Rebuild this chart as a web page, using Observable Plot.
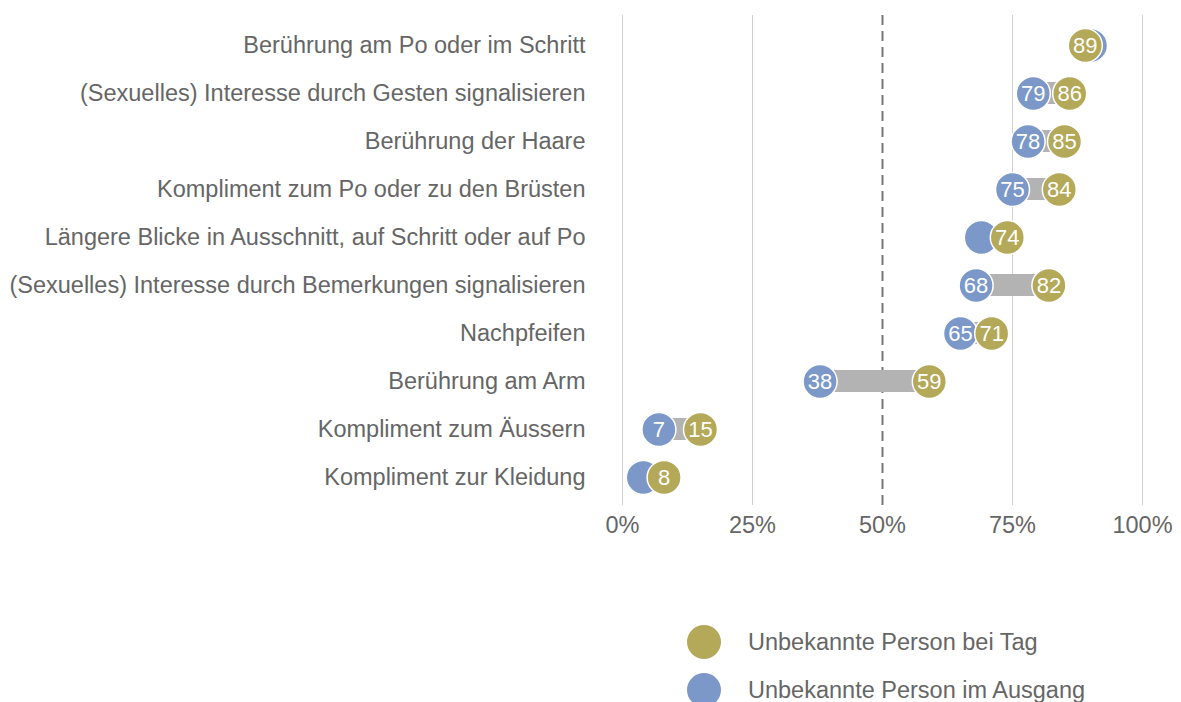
<!DOCTYPE html>
<html>
<head>
<meta charset="utf-8">
<script src="https://cdn.jsdelivr.net/npm/d3@7"></script>
<script src="https://cdn.jsdelivr.net/npm/@observablehq/plot@0.6"></script>
<style>
  body { margin: 0; background: #fff; font-family: "Liberation Sans", Arial, sans-serif; }
  #legend { margin-top: 58px; }
  .item { display: flex; align-items: center; height: 48px; }
  .sw { width: 34px; height: 34px; border-radius: 50%; margin-left: 687px; }
  .lab { margin-left: 27px; font-size: 23.5px; color: #666; }
</style>
</head>
<body>
<div id="chart"></div>
<div id="legend"></div>
<script>
const categories = [
  "Berührung am Po oder im Schritt",
  "(Sexuelles) Interesse durch Gesten signalisieren",
  "Berührung der Haare",
  "Kompliment zum Po oder zu den Brüsten",
  "Längere Blicke in Ausschnitt, auf Schritt oder auf Po",
  "(Sexuelles) Interesse durch Bemerkungen signalisieren",
  "Nachpfeifen",
  "Berührung am Arm",
  "Kompliment zum Äussern",
  "Kompliment zur Kleidung"
];
const tag =     [89, 86, 85, 84, 74, 82, 71, 59, 15, 8];
const ausgang = [90, 79, 78, 75, 69, 68, 65, 38, 7, 4];
const seriesNames = ["Unbekannte Person bei Tag", "Unbekannte Person im Ausgang"];
const seriesColors = ["#b3a958", "#7b98c9"];
const xTicks = [0, 25, 50, 75, 100];

const rows = categories.map((c, i) => ({cat: c, tag: tag[i], aus: ausgang[i]}));
const showAus = rows.filter(d => d.tag - d.aus >= 6);

const plot = Plot.plot({
  width: 1181,
  height: 560,
  marginLeft: 622,
  marginRight: 39,
  marginTop: 21,
  marginBottom: 59,
  style: {fontSize: "23.5px", fontFamily: "Liberation Sans, Arial, sans-serif", color: "#666", background: "#fff"},
  x: {domain: [0, 100]},
  y: {domain: categories, padding: 0},
  marks: [
    Plot.ruleX(xTicks.filter(t => t !== 50), {stroke: "#d0d0d0", strokeWidth: 1, insetTop: -6, insetBottom: -4}),
    Plot.ruleX([50], {stroke: "#777", strokeWidth: 2, strokeDasharray: "10,6", insetTop: -6, insetBottom: -4}),
    Plot.barX(rows, {y: "cat", x1: d => Math.min(d.tag, d.aus), x2: d => Math.max(d.tag, d.aus), fill: "#b3b3b3", insetTop: 13, insetBottom: 13}),
    Plot.dot(rows, {x: "aus", y: "cat", r: 17, fill: seriesColors[1], stroke: "#fff", strokeWidth: 1.5}),
    Plot.text(showAus, {x: "aus", y: "cat", text: d => String(d.aus), fill: "#fff", fontSize: 22}),
    Plot.dot(rows, {x: "tag", y: "cat", r: 17, fill: seriesColors[0], stroke: "#fff", strokeWidth: 1.5}),
    Plot.text(rows, {x: "tag", y: "cat", text: d => String(d.tag), fill: "#fff", fontSize: 22}),
    Plot.axisY({tickSize: 0, tickPadding: 37, label: null}),
    Plot.axisX({ticks: xTicks, tickSize: 0, tickPadding: 15, tickFormat: d => d + "%", label: null})
  ]
});
document.getElementById("chart").appendChild(plot);

const legend = document.getElementById("legend");
seriesNames.forEach((n, i) => {
  const it = document.createElement("div");
  it.className = "item";
  const sw = document.createElement("div");
  sw.className = "sw";
  sw.style.background = seriesColors[i];
  const lab = document.createElement("div");
  lab.className = "lab";
  lab.textContent = n;
  it.appendChild(sw); it.appendChild(lab);
  legend.appendChild(it);
});
</script>
</body>
</html>
